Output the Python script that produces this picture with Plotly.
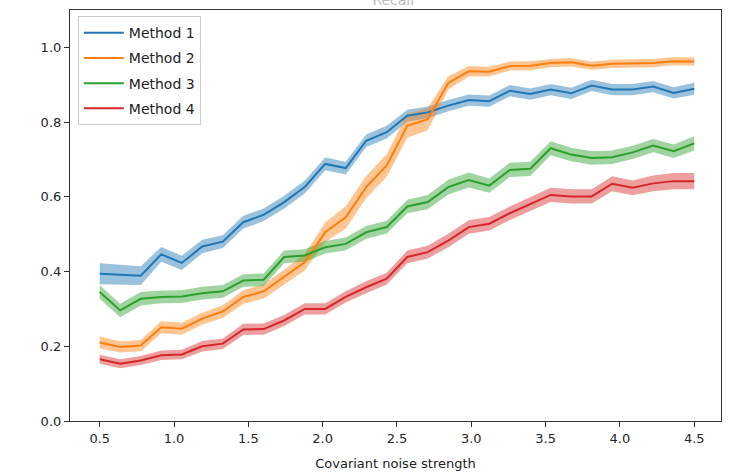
import plotly.graph_objects as go

x_vals = [0.5, 0.638, 0.776, 0.914, 1.052, 1.19, 1.328, 1.466, 1.603, 1.741,
          1.879, 2.017, 2.155, 2.293, 2.431, 2.569, 2.707, 2.845, 2.983, 3.121,
          3.259, 3.397, 3.534, 3.672, 3.81, 3.948, 4.086, 4.224, 4.362, 4.5]

method1 = [0.394, 0.391, 0.389, 0.446, 0.423, 0.467, 0.480, 0.532, 0.552, 0.586,
           0.626, 0.688, 0.677, 0.750, 0.773, 0.817, 0.826, 0.844, 0.859, 0.856,
           0.884, 0.875, 0.887, 0.877, 0.898, 0.887, 0.887, 0.895, 0.878, 0.889]
method2 = [0.210, 0.198, 0.202, 0.251, 0.247, 0.274, 0.293, 0.332, 0.347, 0.385,
           0.425, 0.505, 0.545, 0.626, 0.684, 0.790, 0.808, 0.905, 0.936, 0.935,
           0.950, 0.951, 0.958, 0.960, 0.951, 0.956, 0.957, 0.958, 0.963, 0.962]
method3 = [0.345, 0.296, 0.327, 0.332, 0.333, 0.342, 0.347, 0.376, 0.378, 0.439,
           0.443, 0.465, 0.474, 0.505, 0.519, 0.574, 0.586, 0.626, 0.645, 0.630,
           0.672, 0.675, 0.730, 0.713, 0.704, 0.706, 0.719, 0.737, 0.722, 0.743]
method4 = [0.165, 0.153, 0.162, 0.176, 0.178, 0.200, 0.207, 0.245, 0.246, 0.269,
           0.300, 0.300, 0.332, 0.358, 0.381, 0.439, 0.452, 0.483, 0.519, 0.528,
           0.556, 0.581, 0.605, 0.601, 0.601, 0.635, 0.624, 0.636, 0.642, 0.642]

spread1 = [0.028, 0.026, 0.025, 0.020, 0.019, 0.018, 0.017, 0.017, 0.017, 0.017,
           0.017, 0.017, 0.017, 0.017, 0.017, 0.016, 0.016, 0.015, 0.015, 0.015,
           0.015, 0.015, 0.015, 0.015, 0.015, 0.015, 0.015, 0.015, 0.015, 0.016]
spread2 = [0.016, 0.015, 0.015, 0.016, 0.016, 0.016, 0.017, 0.018, 0.019, 0.020,
           0.022, 0.026, 0.030, 0.030, 0.030, 0.032, 0.030, 0.018, 0.014, 0.013,
           0.012, 0.012, 0.011, 0.011, 0.011, 0.011, 0.011, 0.011, 0.011, 0.011]
spread3 = [0.018, 0.018, 0.018, 0.017, 0.017, 0.017, 0.017, 0.017, 0.017, 0.017,
           0.017, 0.017, 0.017, 0.017, 0.017, 0.018, 0.019, 0.020, 0.020, 0.019,
           0.019, 0.019, 0.019, 0.018, 0.018, 0.018, 0.018, 0.018, 0.018, 0.019]
spread4 = [0.012, 0.012, 0.012, 0.013, 0.013, 0.014, 0.014, 0.015, 0.015, 0.015,
           0.015, 0.015, 0.015, 0.016, 0.016, 0.017, 0.017, 0.018, 0.018, 0.018,
           0.018, 0.019, 0.019, 0.019, 0.019, 0.020, 0.020, 0.021, 0.022, 0.022]

names = ["Method 1", "Method 2", "Method 3", "Method 4"]
colors = ["#1f77b4", "#ff7f0e", "#2ca02c", "#d62728"]
fills = ["rgba(31,119,180,0.45)", "rgba(255,127,14,0.45)",
         "rgba(44,160,44,0.45)", "rgba(214,39,40,0.45)"]
series = [method1, method2, method3, method4]
spreads = [spread1, spread2, spread3, spread4]

x_ticks = [0.5, 1.0, 1.5, 2.0, 2.5, 3.0, 3.5, 4.0, 4.5]
y_ticks = [0.0, 0.2, 0.4, 0.6, 0.8, 1.0]

fig = go.Figure()
for name, col, fc, ys, sp in zip(names, colors, fills, series, spreads):
    upper = [v + s for v, s in zip(ys, sp)]
    lower = [v - s for v, s in zip(ys, sp)]
    fig.add_trace(go.Scatter(
        x=x_vals + x_vals[::-1], y=upper + lower[::-1],
        fill="toself", fillcolor=fc, line=dict(width=0),
        mode="lines", showlegend=False, hoverinfo="skip"))
for name, col, ys in zip(names, colors, series):
    fig.add_trace(go.Scatter(x=x_vals, y=ys, mode="lines", name=name,
                             legendgroup=name,
                             line=dict(color=col, width=2)))

axis_common = dict(showline=True, linecolor="#333333", linewidth=1.2, mirror=True,
                   ticks="outside", ticklen=5, tickwidth=1, tickcolor="#333333",
                   showgrid=False, zeroline=False, automargin=False,
                   tickfont=dict(family="DejaVu Sans", size=13, color="#262626"))

fig.update_layout(
    width=731, height=476,
    margin=dict(l=70, r=10, t=10, b=55),
    paper_bgcolor="white", plot_bgcolor="white",
    title=dict(text="Recall", x=0.538, xanchor="center", y=1.0, yanchor="middle",
               yref="container",
               font=dict(family="DejaVu Sans", size=14, color="#bbbbbb")),
    xaxis=dict(range=[0.3, 4.68], tickvals=x_ticks,
               ticktext=[f"{t:.1f}" for t in x_ticks],
               title=dict(text="Covariant noise strength", standoff=14,
                          font=dict(family="DejaVu Sans", size=13, color="#222222")),
               **axis_common),
    yaxis=dict(range=[0, 1.1], tickvals=y_ticks,
               ticktext=[f"{t:.1f}" for t in y_ticks], **axis_common),
    legend=dict(x=0.012, y=0.985, xanchor="left", yanchor="top",
                bgcolor="rgba(255,255,255,0.9)", bordercolor="#cccccc", borderwidth=1,
                font=dict(family="DejaVu Sans", size=14, color="#222222"),
                tracegroupgap=4, itemwidth=40),
    showlegend=True,
)

fig.write_html("out.html")
